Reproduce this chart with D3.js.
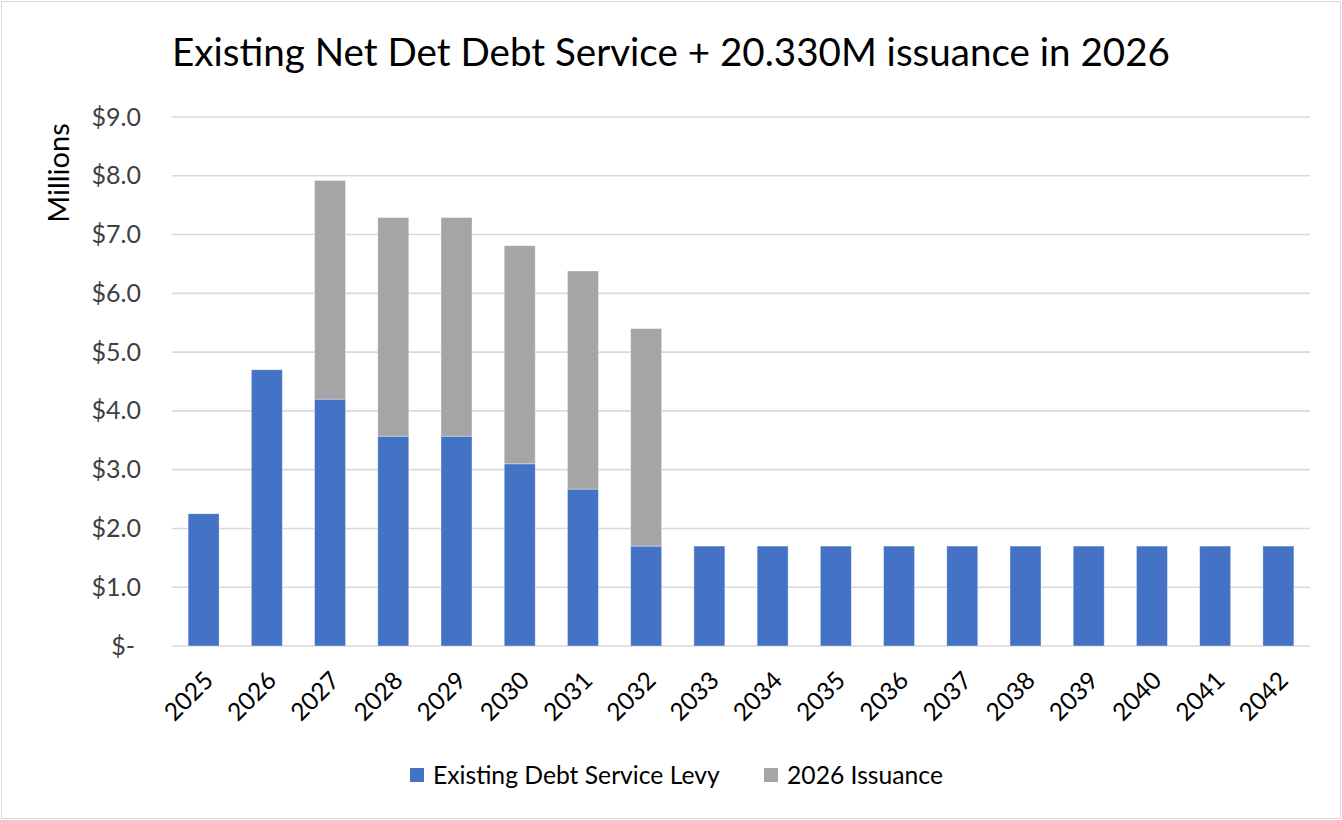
<!DOCTYPE html>
<html>
<head>
<meta charset="utf-8">
<script src="https://cdn.jsdelivr.net/npm/d3@7"></script>
<style>
  html, body { margin: 0; padding: 0; background: #fff; }
  svg { display: block; font-family: Lato, "Open Sans", sans-serif; }
</style>
</head>
<body>
<svg id="chart" width="1342" height="820"></svg>
<script>
// Debt service by year, in millions of dollars
const years = ["2025","2026","2027","2028","2029","2030","2031","2032","2033",
               "2034","2035","2036","2037","2038","2039","2040","2041","2042"];
const existingLevy = [2.25, 4.70, 4.20, 3.57, 3.57, 3.10, 2.67, 1.70, 1.70,
                      1.70, 1.70, 1.70, 1.70, 1.70, 1.70, 1.70, 1.70, 1.70];
const issuance2026 = [0, 0, 3.72, 3.72, 3.72, 3.71, 3.71, 3.70, 0,
                      0, 0, 0, 0, 0, 0, 0, 0, 0];
const yTicks = [0, 1, 2, 3, 4, 5, 6, 7, 8, 9];
const seriesNames = ["Existing Debt Service Levy", "2026 Issuance"];
const seriesColors = ["#4472C4", "#A5A5A5"];
const titleText = "Existing Net Det Debt Service + 20.330M issuance in 2026";

const W = 1342, H = 820;
const plot = { left: 172, right: 1310, top: 117, bottom: 646 };

const svg = d3.select("#chart");

// outer chart border
svg.append("rect")
  .attr("x", 1.5).attr("y", 1.5)
  .attr("width", W - 3).attr("height", H - 3)
  .attr("fill", "#fff").attr("stroke", "#D9D9D9").attr("stroke-width", 1);

const x = d3.scaleBand().domain(years)
  .range([plot.left, plot.right]).paddingInner(0.51).paddingOuter(0.255);
const y = d3.scaleLinear().domain([0, 9]).range([plot.bottom, plot.top]);

// gridlines
svg.append("g").selectAll("line").data(yTicks).join("line")
  .attr("x1", plot.left).attr("x2", plot.right)
  .attr("y1", d => y(d)).attr("y2", d => y(d))
  .attr("stroke", "#D9D9D9").attr("stroke-width", 1.6);

// stacked bars
const rows = years.map((yr, i) => ({ year: yr, a: existingLevy[i], b: issuance2026[i] }));
const stacked = d3.stack().keys(["a", "b"])(rows);

svg.append("g").selectAll("g").data(stacked).join("g")
  .attr("fill", (d, i) => seriesColors[i])
  .selectAll("rect").data(d => d.filter(s => s[1] - s[0] > 0)).join("rect")
  .attr("x", d => x(d.data.year))
  .attr("width", x.bandwidth())
  .attr("y", d => y(d[1]))
  .attr("height", d => y(d[0]) - y(d[1]))
  .attr("stroke", "rgba(255,255,255,0.45)").attr("stroke-width", 0.8);

// y axis labels
const yAxis = d3.axisLeft(y).tickValues(yTicks)
  .tickFormat(d => d === 0 ? "$-" : "$" + d3.format(".1f")(d))
  .tickSize(0).tickPadding(0);
const gy = svg.append("g").attr("transform", `translate(${plot.left - 31},0)`).call(yAxis);
gy.select(".domain").remove();
gy.selectAll("text")
  .attr("font-family", "Lato, 'Open Sans', sans-serif")
  .attr("font-size", 25).attr("fill", "#404040")
  .attr("dx", d => d === 0 ? -6 : 0);

// x axis labels
const xAxis = d3.axisBottom(x).tickSize(0).tickPadding(0);
const gx = svg.append("g").attr("transform", `translate(0,${plot.bottom})`).call(xAxis);
gx.select(".domain").remove();
gx.selectAll("text")
  .attr("font-family", "Lato, 'Open Sans', sans-serif")
  .attr("font-size", 24.5).attr("fill", "#000")
  .attr("text-anchor", "end")
  .attr("dy", "0.35em")
  .attr("transform", "translate(5,30) rotate(-45)");

// axis title
svg.append("text")
  .attr("transform", "translate(69,173) rotate(-90)")
  .attr("text-anchor", "middle")
  .attr("font-size", 29).attr("fill", "#000")
  .text("Millions");

// chart title
svg.append("text")
  .attr("x", 671).attr("y", 66)
  .attr("text-anchor", "middle")
  .attr("font-size", 38.6).attr("fill", "#000")
  .text(titleText);

// legend
const legend = svg.append("g");
const legendX = [410, 764];
seriesNames.forEach((name, i) => {
  const g = legend.append("g").attr("transform", `translate(${legendX[i]},775)`);
  g.append("rect").attr("x", 0).attr("y", -7).attr("width", 14).attr("height", 14)
    .attr("fill", seriesColors[i]);
  g.append("text").attr("x", 23).attr("y", 0).attr("dy", "0.35em")
    .attr("font-size", 24.7).attr("fill", "#000").text(name);
});
</script>
</body>
</html>
